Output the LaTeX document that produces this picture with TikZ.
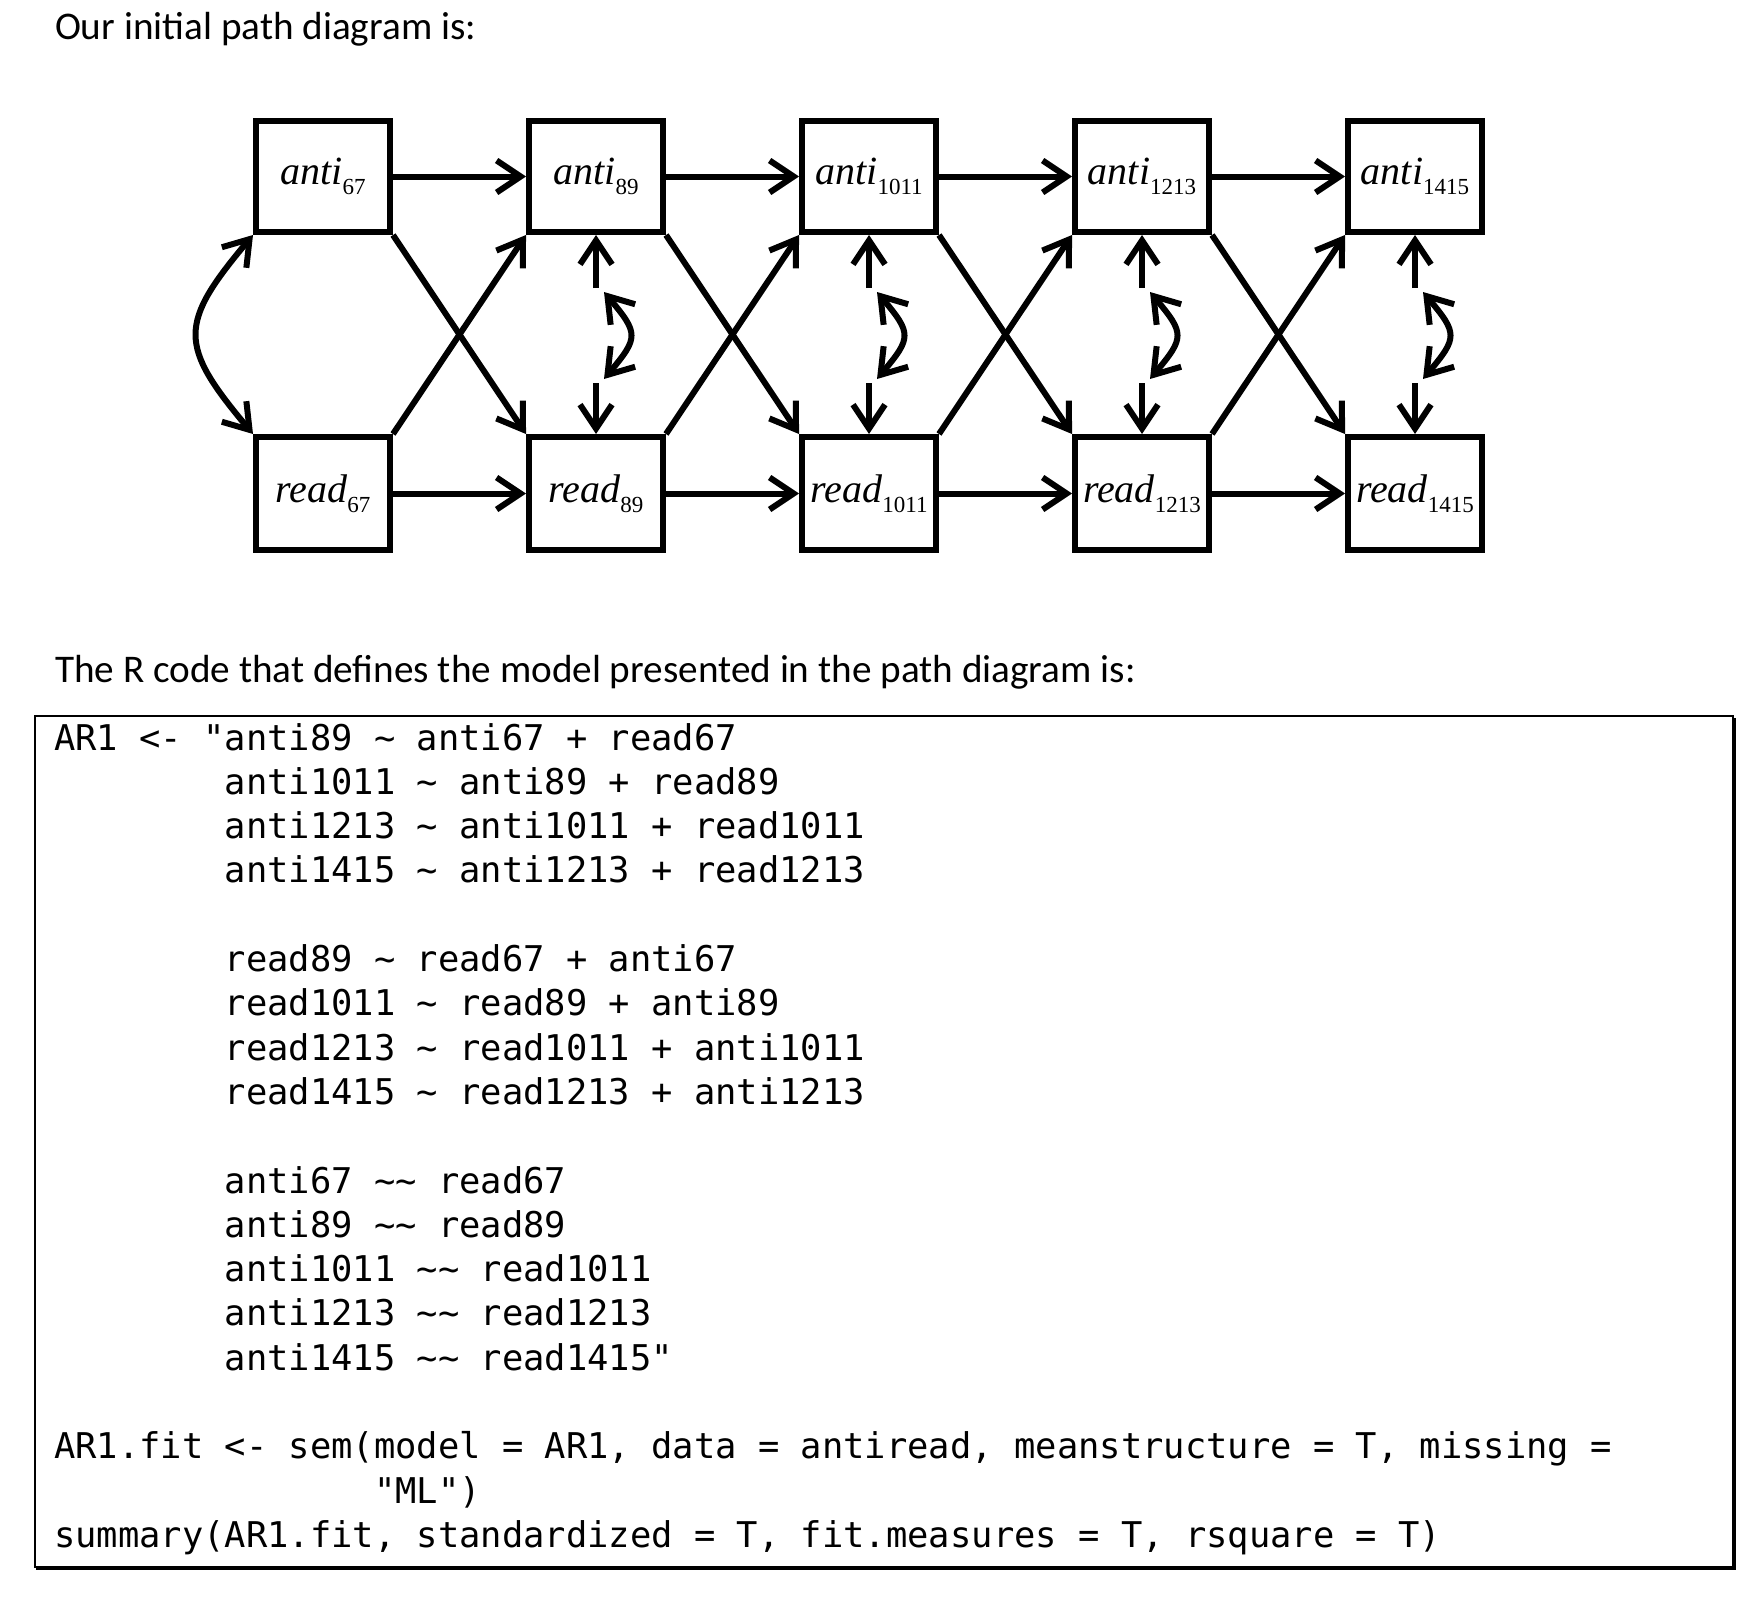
\documentclass[tikz,border=0pt]{standalone}
\usepackage{fontspec}
\setmainfont{Liberation Serif}
\setsansfont{Carlito}
\setmonofont{DejaVu Sans Mono}
\usetikzlibrary{positioning, arrows.meta}

\newcommand{\varlab}[2]{\fontsize{40}{40}\selectfont\itshape #1\/\raisebox{-0.25em}{\upshape\fontsize{23}{23}\selectfont #2}}
\newcommand{\codeind}{\phantom{AR1 <- "}}
\newcommand{\tld}{\textasciitilde}

\begin{document}
\begin{tikzpicture}[x=1pt,y=1pt,->,>={Straight Barb[length=24pt,width=32pt]},line width=6pt,node distance=273pt,
                    var/.style={rectangle,draw,line width=6pt,minimum width=134pt,minimum height=111pt,inner sep=0pt},
                    caption/.style={anchor=base west,inner sep=0pt,font=\fontsize{39.2}{47}\selectfont\sffamily},
                    code/.style={anchor=north west,inner sep=0pt,align=left,font=\fontsize{35.45}{44.3}\selectfont\ttfamily}]
\useasboundingbox (0,0) rectangle (1758,-1598);

\node[caption] (head1) at (52,-39.5) {Our initial path diagram is:};

% anti row
\node[var] (a1) at (323,-176.5) {\varlab{anti}{67}};
\node[var] (a2) [right of=a1] {\varlab{anti}{89}};
\node[var] (a3) [right of=a2] {\varlab{anti}{1011}};
\node[var] (a4) [right of=a3] {\varlab{anti}{1213}};
\node[var] (a5) [right of=a4] {\varlab{anti}{1415}};

% read row
\node[var, minimum height=113pt] (r1) at (323,-493.5) {\varlab{read}{67}};
\node[var, minimum height=113pt] (r2) [right of=r1] {\varlab{read}{89}};
\node[var, minimum height=113pt] (r3) [right of=r2] {\varlab{read}{1011}};
\node[var, minimum height=113pt] (r4) [right of=r3] {\varlab{read}{1213}};
\node[var, minimum height=113pt] (r5) [right of=r4] {\varlab{read}{1415}};

\foreach \i/\j in {1/2,2/3,3/4,4/5}{
  \draw (a\i) -- (a\j);
  \draw (r\i) -- (r\j);
  \draw (a\i.south east) -- (r\j.north west);
  \draw (r\i.north east) -- (a\j.south west);
}

% covariances
\draw[<->] (a1.south west) to[out=230,in=130,looseness=1.5] (r1.north west);
\foreach \i in {2,...,5}{
  \coordinate (ea\i) at ([yshift=-53pt]a\i.south);
  \coordinate (er\i) at ([yshift=51pt]r\i.north);
  \draw (ea\i) -- (a\i.south);
  \draw (er\i) -- (r\i.north);
  \draw[<->] ([xshift=8pt,yshift=-4pt]ea\i) to[out=-50,in=50,looseness=1.6] ([xshift=8pt,yshift=4pt]er\i);
}

\node[caption] (head2) at (52,-682) {The R code that defines the model presented in the path diagram is:};

% code box
\draw[-,line width=2pt] (35,-716) rectangle (1733,-1567);
\draw[-,line width=4pt] (1734,-718) -- (1734,-1568) -- (36,-1568);

\node[code] (rcode) at (51,-716) {\strut AR1 <- "anti89 \tld{} anti67 + read67\\
\strut\codeind anti1011 \tld{} anti89 + read89\\
\strut\codeind anti1213 \tld{} anti1011 + read1011\\
\strut\codeind anti1415 \tld{} anti1213 + read1213\\
\strut\\
\strut\codeind read89 \tld{} read67 + anti67\\
\strut\codeind read1011 \tld{} read89 + anti89\\
\strut\codeind read1213 \tld{} read1011 + anti1011\\
\strut\codeind read1415 \tld{} read1213 + anti1213\\
\strut\\
\strut\codeind anti67 \tld\tld{} read67\\
\strut\codeind anti89 \tld\tld{} read89\\
\strut\codeind anti1011 \tld\tld{} read1011\\
\strut\codeind anti1213 \tld\tld{} read1213\\
\strut\codeind anti1415 \tld\tld{} read1415"\\
\strut\\
\strut AR1.fit <- sem(model = AR1, data = antiread, meanstructure = T, missing =\\
\strut\phantom{AR1.fit <- sem(}"ML")\\
\strut summary(AR1.fit, standardized = T, fit.measures = T, rsquare = T)};
\end{tikzpicture}
\end{document}
